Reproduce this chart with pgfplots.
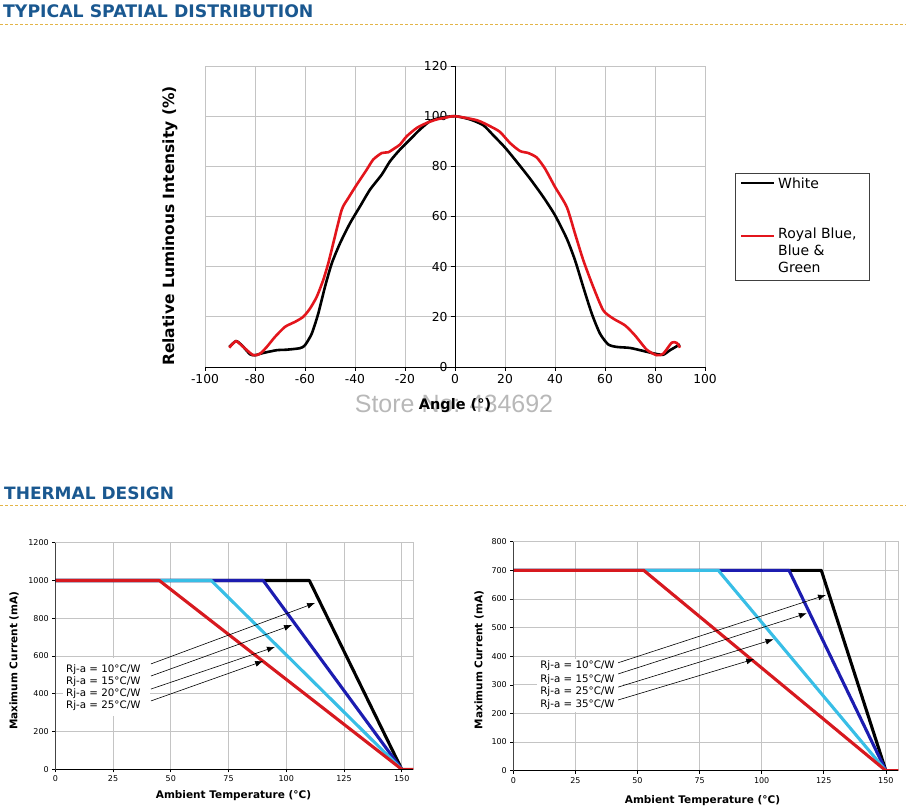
\documentclass[border=0pt]{standalone}
\usepackage{fontspec}
\setmainfont{DejaVu Sans}
\newfontfamily\wmfont{Liberation Sans}
\usepackage{pgfplots}
\pgfplotsset{compat=1.18}
\usetikzlibrary{arrows.meta}

\definecolor{hdrblue}{HTML}{1A5890}
\definecolor{hdrline}{HTML}{E3B548}
\definecolor{gridgray}{HTML}{C4C4C4}
\definecolor{lumred}{HTML}{E3151C}
\definecolor{dred}{HTML}{D7191F}
\definecolor{lblue}{HTML}{38BEE6}
\definecolor{dblue}{HTML}{1C1CB0}

\pgfplotsset{
  thermal/.style={
    anchor=south west, scale only axis,
    xmin=0, xmax=155, ymin=0,
    xtick={0,25,...,150},
    grid=major, grid style={gridgray, line width=0.8pt},
    axis line style={gridgray, line width=0.8pt},
    tick align=outside, major tick length=3pt,
    tick style={black, line width=0.6pt},
    xtick pos=bottom, ytick pos=left,
    ticklabel style={font=\fontsize{8}{9}\selectfont},
    /pgf/number format/assume math mode=true,
    /pgf/number format/1000 sep={},
    every axis plot/.append style={line width=3.1pt, line join=round},
  },
}
\tikzset{
  rjarrow/.style={-{Latex[length=8pt,width=6pt]}, line width=0.6pt, black},
  rjlabel/.style={anchor=west, inner sep=0pt, font=\fontsize{10.3}{12}\selectfont},
}

\begin{document}
\begin{tikzpicture}[x=1pt,y=1pt]
\useasboundingbox (0,0) rectangle (906,807);

% section headings
\node[anchor=base west, inner sep=0pt, text=hdrblue, font=\bfseries\fontsize{17.3}{20}\selectfont] at (3,789.7) {TYPICAL SPATIAL DISTRIBUTION};
\draw[hdrline, line width=1pt, dash pattern=on 3pt off 2pt] (0,782.7) -- (906,782.7);
\node[anchor=base west, inner sep=0pt, text=hdrblue, font=\bfseries\fontsize{17}{20}\selectfont] at (4,307.7) {THERMAL DESIGN};
\draw[hdrline, line width=1pt, dash pattern=on 3pt off 2pt] (0,301.3) -- (906,301.3);

% ---------------- spatial distribution ----------------
\begin{axis}[
  at={(205pt,440pt)}, anchor=south west, scale only axis,
  width=500pt, height=301pt,
  xmin=-100, xmax=100, ymin=0, ymax=120,
  xtick={-100,-80,...,100}, ytick={0,20,...,120},
  grid=major, grid style={gridgray, line width=0.8pt},
  axis x line=bottom, axis y line=center,
  axis line style={-, black, line width=0.8pt},
  hide obscured x ticks=false, hide obscured y ticks=false,
  tick align=outside, major tick length=4pt,
  tick style={black, line width=0.7pt},
  ticklabel style={font=\fontsize{12.3}{14}\selectfont},
  /pgf/number format/assume math mode=true,
]
\addplot[black, line width=2.6pt, smooth, tension=0.4] coordinates {
 (-90.3,8)(-87.6,10.3)(-85.3,8.7)(-82,5.1)(-80,4.7)(-76.7,5.6)(-71.3,6.7)
 (-67.3,6.9)(-62,7.5)(-60,8.7)(-57.3,13.3)(-54.7,21.3)(-52,32)(-49.3,41.3)
 (-46,49.3)(-42,57.3)(-38,64)(-34,70.7)(-29.3,76.7)(-26,82)(-22,86.7)
 (-18,90.7)(-14,94.7)(-10,98)(-6,99.3)(0,100)(6,98.7)(11.3,96.4)(15.3,92.4)
 (20,87.5)(24.7,81.8)(30,75.1)(35.3,67.8)(40,60.5)(44.7,51.2)(48,42.6)
 (51.3,31.9)(54.7,21.3)(58,13.3)(61.3,9)(64.7,8)(70,7.6)(75.3,6.4)(80,5.3)
 (83.3,4.9)(86,6.7)(90,9)};
\addplot[lumred, line width=2.6pt, smooth, tension=0.4] coordinates {
 (-90.3,7.7)(-87.6,10.3)(-84.7,8)(-80.7,4.7)(-78,5.3)(-75.3,8)(-72,12)(-68,16)
 (-64,18)(-60.7,20)(-58,23.3)(-55.3,28)(-52.7,34.7)(-50.7,41.3)(-48.7,49.3)
 (-45.3,62.7)(-42.7,67.3)(-39.3,72.7)(-35.3,78.7)(-32.7,82.7)(-29.3,85.3)
 (-26.7,85.6)(-24,87.3)(-22,88.7)(-19.3,92)(-15.3,95.3)(-11.3,97.3)(-7.3,98.7)
 (-3.3,99.5)(0,100)(8.7,98.4)(14,96)(18,93.7)(22,89.3)(26,86.1)(29.3,85.3)
 (32.7,83.5)(36,79.1)(40,71.8)(44.7,63.8)(48,53.2)(51.3,42.6)(55.3,31.9)
 (59.3,22.6)(63.3,19.3)(68,16.6)(72,12.6)(76.7,6.9)(80.7,4.7)(83.3,5.3)
 (86.7,9.7)(88.7,9.6)(90,7.7)};
\end{axis}

% store mark under the axis title
\node[text=black!28, font=\wmfont\fontsize{25}{28}\selectfont, inner sep=0pt] at (454,403) {Store No: 434692};
\node[font=\bfseries\fontsize{14.5}{16}\selectfont] at (455,401) {Angle (°)};
\node[rotate=90, font=\bfseries\fontsize{15.5}{18}\selectfont] at (170,581) {Relative Luminous Intensity (\%)};

% legend
\draw[black!75, line width=0.8pt] (735,634) rectangle (869,527);
\draw[black, line width=2.6pt] (741,624) -- (774,624);
\node[anchor=west, inner sep=0pt, font=\fontsize{14}{17}\selectfont] at (778,624) {White};
\draw[lumred, line width=2.6pt] (741,571) -- (774,571);
\node[anchor=north west, inner sep=0pt, align=left, font=\fontsize{14}{17}\selectfont] at (778,579.5) {Royal Blue,\\Blue \&\\Green};

% ---------------- thermal design: 1000 mA ----------------
\begin{axis}[thermal, at={(55.3pt,37.7pt)}, width=358pt, height=226.6pt,
  ymax=1200, ytick={0,200,...,1200}]
\addplot[black] coordinates {(0,1000)(110,1000)(150,0)};
\addplot[dblue] coordinates {(0,1000)(90,1000)(150,0)};
\addplot[lblue] coordinates {(0,1000)(67.5,1000)(150,0)};
\addplot[dred] coordinates {(0,1000)(45,1000)(150,0)(155,0)};
\draw[black, line width=0.8pt] (rel axis cs:0,1) -- (rel axis cs:0,0) -- (rel axis cs:1,0);
\fill[white] (axis cs:3.3,282) rectangle (axis cs:41,589);
\node[rjlabel] at (axis cs:4.6,529.6) {Rj-a = 10°C/W};
\node[rjlabel] at (axis cs:4.6,466) {Rj-a = 15°C/W};
\node[rjlabel] at (axis cs:4.6,402.5) {Rj-a = 20°C/W};
\node[rjlabel] at (axis cs:4.6,339) {Rj-a = 25°C/W};
\draw[rjarrow] (axis cs:41.4,558) -- (axis cs:112.5,881);
\draw[rjarrow] (axis cs:41.4,494) -- (axis cs:102.5,764);
\draw[rjarrow] (axis cs:41.4,425) -- (axis cs:95.1,648);
\draw[rjarrow] (axis cs:41.4,362) -- (axis cs:90,573);
\end{axis}
\node[font=\bfseries\fontsize{10.5}{12}\selectfont] at (233.5,11) {Ambient Temperature (°C)};
\node[rotate=90, font=\bfseries\fontsize{10.5}{12}\selectfont] at (14,146.2) {Maximum Current (mA)};

% ---------------- thermal design: 700 mA ----------------
\begin{axis}[thermal, at={(513.3pt,36.3pt)}, width=385pt, height=229pt,
  ymax=800, ytick={0,100,...,800}]
\addplot[black] coordinates {(0,700)(124,700)(150,0)};
\addplot[dblue] coordinates {(0,700)(111,700)(150,0)};
\addplot[lblue] coordinates {(0,700)(82.5,700)(150,0)};
\addplot[dred] coordinates {(0,700)(52.5,700)(150,0)(155,0)};
\draw[black, line width=0.8pt] (rel axis cs:0,1) -- (rel axis cs:0,0) -- (rel axis cs:1,0);
\fill[white] (axis cs:9.4,205) rectangle (axis cs:44,390);
\node[rjlabel] at (axis cs:10.8,365.8) {Rj-a = 10°C/W};
\node[rjlabel] at (axis cs:10.8,319.2) {Rj-a = 15°C/W};
\node[rjlabel] at (axis cs:10.8,277.3) {Rj-a = 25°C/W};
\node[rjlabel] at (axis cs:10.8,232) {Rj-a = 35°C/W};
\draw[rjarrow] (axis cs:42.2,377) -- (axis cs:125.9,614);
\draw[rjarrow] (axis cs:42.2,338) -- (axis cs:118.2,550);
\draw[rjarrow] (axis cs:42.2,292) -- (axis cs:104.8,459);
\draw[rjarrow] (axis cs:42.2,247) -- (axis cs:97,390);
\end{axis}
\node[font=\bfseries\fontsize{10.5}{12}\selectfont] at (702.5,6) {Ambient Temperature (°C)};
\node[rotate=90, font=\bfseries\fontsize{10.5}{12}\selectfont] at (479,147) {Maximum Current (mA)};
\end{tikzpicture}
\end{document}
